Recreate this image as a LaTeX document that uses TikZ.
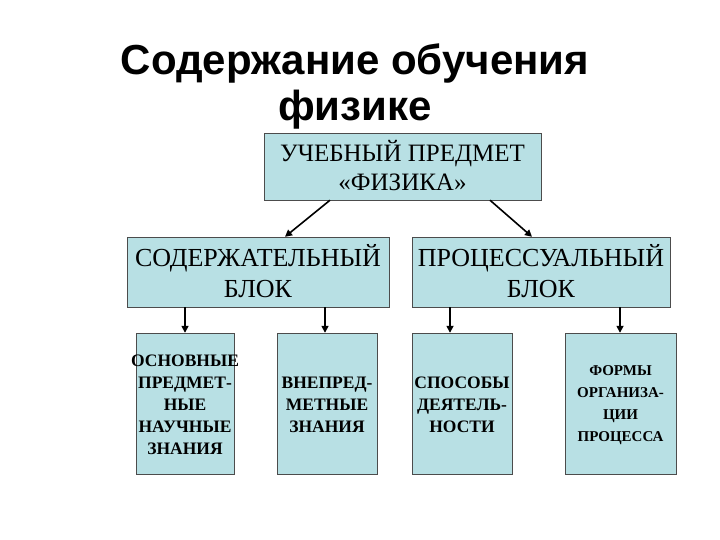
\documentclass[tikz,border=0pt]{standalone}
\usepackage{fontspec}
\setmainfont{Liberation Serif}
\newfontfamily\titlefont{Liberation Sans}
\usetikzlibrary{arrows.meta}
\begin{document}
\begin{tikzpicture}[x=1pt,y=-1pt,
  box/.style={draw=black!70,fill={rgb,255:red,184;green,224;blue,228},inner sep=0pt},
  txt/.style={align=center,inner sep=0pt},
  mid/.style={txt,font=\fontsize{26}{31}\selectfont},
  bt/.style={txt,font=\bfseries\fontsize{17.5}{22}\selectfont},
  arr/.style={-{Triangle[length=7pt,width=7pt]},line width=1.6pt}]
\useasboundingbox (0,0) rectangle (720,540);
\node[txt,font=\titlefont\bfseries\fontsize{42}{46}\selectfont] (title) at (355,86) {Содержание обучения\\физике};
\node[box,minimum width=277pt,minimum height=67pt] (top) at (402.5,166.5) {};
\node[txt,font=\fontsize{25}{29}\selectfont] (topt) at (402.5,166) {УЧЕБНЫЙ ПРЕДМЕТ\\«ФИЗИКА»};
\node[box,minimum width=262pt,minimum height=70pt] (m1) at (258,272) {};
\node[mid] (m1t) at (258,271) {СОДЕРЖАТЕЛЬНЫЙ\\БЛОК};
\node[box,minimum width=258pt,minimum height=70pt] (m2) at (541,272) {};
\node[mid] (m2t) at (541,271) {ПРОЦЕССУАЛЬНЫЙ\\БЛОК};
\tikzset{bot/.style={box,minimum width=100pt,minimum height=141pt}}
\node[bot,minimum width=98pt] (b1) at (185,403.5) {};
\node[bot] (b2) at (327,403.5) {};
\node[bot] (b3) at (462,403.5) {};
\node[bot,minimum width=111pt] (b4) at (620.5,403.5) {};
\node[bt] (b1t) at (185,405) {ОСНОВНЫЕ\\ПРЕДМЕТ-\\НЫЕ\\НАУЧНЫЕ\\ЗНАНИЯ};
\node[bt] (b2t) at (327,405) {ВНЕПРЕД-\\МЕТНЫЕ\\ЗНАНИЯ};
\node[bt] (b3t) at (462,405) {СПОСОБЫ\\ДЕЯТЕЛЬ-\\НОСТИ};
\node[bt,font=\bfseries\fontsize{15}{22}\selectfont] (b4t) at (620.5,405) {ФОРМЫ\\ОРГАНИЗА-\\ЦИИ\\ПРОЦЕССА};
\draw[arr] (top.south -| 330,0) -- (m1.north -| 285,0);
\draw[arr] (top.south -| 490,0) -- (m2.north -| 532,0);
\draw[arr] (m1.south -| 185,0) -- (b1.north -| 185,0);
\draw[arr] (m1.south -| 325,0) -- (b2.north -| 325,0);
\draw[arr] (m2.south -| 450,0) -- (b3.north -| 450,0);
\draw[arr] (m2.south -| 620,0) -- (b4.north -| 620,0);
\end{tikzpicture}
\end{document}
